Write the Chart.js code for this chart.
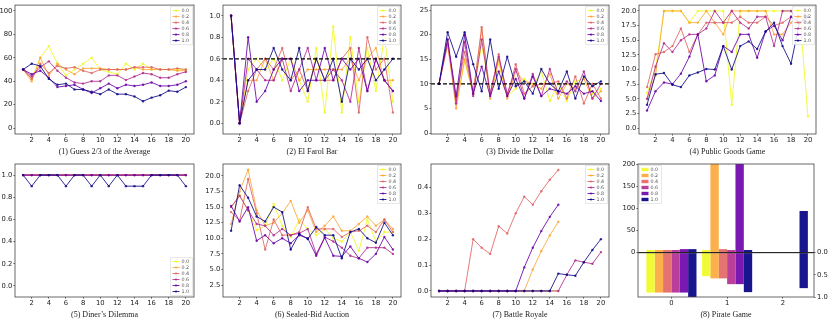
<!DOCTYPE html>
<html><head><meta charset="utf-8">
<script src="https://cdn.jsdelivr.net/npm/chart.js@4.4.1/dist/chart.umd.min.js"></script>
<style>
html,body{margin:0;padding:0;background:#fff;}
body{position:relative;width:831px;height:320px;overflow:hidden;}
canvas{position:absolute;}
.ttl{position:absolute;font-family:"Liberation Serif","Times New Roman",serif;font-size:8px;line-height:9px;color:#222;white-space:nowrap;transform:translateX(-50%);}
</style></head><body>
<script>
// ---------- data ----------
const rounds = [1,2,3,4,5,6,7,8,9,10,11,12,13,14,15,16,17,18,19,20];
const roundTicks = [2,4,6,8,10,12,14,16,18,20];
const temperatures = ['0.0','0.2','0.4','0.6','0.8','1.0'];

// (1) Guess 2/3 of the Average
const guess00 = [50,42,60,70,55,45,50,55,60,50,48,46,55,50,55,50,50,50,50,50];
const guess02 = [50,40,60,45,55,50,46,51,51,51,50,50,50,52,50,50,50,50,49,49];
const guess04 = [50,42,55,47,53,51,52,49,47,50,50,50,50,52,52,52,50,50,51,50];
const guess06 = [50,44,52,57,49,43,39,38,40,40,45,45,41,44,47,46,43,43,46,48];
const guess08 = [50,46,49,43,35,36,37,33,30,34,38,34,37,36,37,39,36,36,37,40];
const guess10 = [50,55,53,42,37,38,33,33,31,29,33,29,29,27,23,26,28,32,31,35];
const guessTicks = [0,20,40,60,80,100];

// (2) El Farol Bar
const farol00 = [1.0,0.0,0.5,0.6,0.5,0.6,0.4,0.6,0.4,0.2,0.7,0.1,0.9,0.1,0.8,0.2,0.7,0.3,0.8,0.2];
const farol02 = [1.0,0.0,0.4,0.4,0.6,0.4,0.6,0.6,0.4,0.5,0.5,0.5,0.5,0.5,0.6,0.4,0.6,0.7,0.4,0.4];
const farol04 = [1.0,0.0,0.3,0.5,0.6,0.5,0.7,0.4,0.5,0.3,0.6,0.4,0.4,0.6,0.7,0.1,0.8,0.5,0.6,0.1];
const farol06 = [1.0,0.0,0.6,0.5,0.4,0.4,0.6,0.3,0.5,0.7,0.4,0.4,0.5,0.4,0.2,0.7,0.3,0.6,0.4,0.3];
const farol08 = [1.0,0.0,0.8,0.2,0.3,0.5,0.6,0.6,0.3,0.4,0.4,0.7,0.4,0.6,0.5,0.6,0.3,0.6,0.4,0.3];
const farol10 = [1.0,0.0,0.4,0.5,0.5,0.7,0.5,0.4,0.7,0.3,0.6,0.4,0.6,0.2,0.6,0.5,0.6,0.4,0.5,0.6];
const farolTicks = [0,0.2,0.4,0.6,0.8,1.0];
const farolThreshold = 0.6;

// (3) Divide the Dollar
const dollar00 = [10,18.5,6,14.5,8,18,8,14,7.5,9,11,9.5,12.5,6.5,10,6.5,10.5,11,8,9];
const dollar02 = [10,18,5,15,8,21,7,15,7,12.5,10.5,10,9,12,7,10,9,11,7,8.5];
const dollar04 = [10,18,7,16.5,8,21.5,8,16,7.5,14,8,9.5,10,10,10.5,7,11.5,6,10,7];
const dollar06 = [10,19,6,18.5,7.5,19,8,15.5,8,13,7,12,7.5,13,8,10.5,8.5,12.5,7,10];
const dollar08 = [10,19,7.5,20,8,13.5,7.5,12.5,7.5,11,7,11.5,7.5,9,8.5,8,9.5,8,8.5,6.5];
const dollar10 = [10,20.5,15.5,20.5,14,8.5,19,9,15.5,9.5,10.5,8,13,10,8.5,12.5,7,11.5,9.5,10.5];
const dollarTicks = [0,5,10,15,20,25];
const dollarTarget = 10;

// (4) Public Goods Game
const goods00 = [6,10,20,20,20,18,20,20,20,20,4,20,20,20,20,20,20,20,20,2];
const goods02 = [5,9,20,20,20,18,18,20,18,16,20,20,20,20,20,16,16,18,19,20];
const goods04 = [7,12.6,13,14,17,13,16,18,18,18,18,19,18,18,19,17.5,18,19,19,18];
const goods06 = [5,10.5,14.5,13,15,16,16,17,20,18,20,18,17,19,19,14,20,20,18,19];
const goods08 = [3,6.3,7.8,7.5,9.3,12.2,16,8,9,14,13,16,16,12,16.5,17.5,15,19,18,19];
const goods10 = [4,9.2,9.4,7.4,7,9,9.5,10.1,10,14,10,14,14.8,13.5,16.5,18,14,11,18,19];
const goodsTicks = [0,2.5,5,7.5,10,12.5,15,17.5,20];

// (5) Diner's Dilemma
const diner00 = [1,1,1,1,1,1,1,1,1,1,1,1,1,1,1,1,1,1,1,1];
const diner02 = [1,1,1,1,1,1,1,1,1,1,1,1,1,1,1,1,1,1,1,1];
const diner04 = [1,1,1,1,1,1,1,1,1,1,1,1,1,1,1,1,1,1,1,1];
const diner06 = [1,1,1,1,1,1,1,1,1,1,1,1,1,1,1,1,1,1,1,1];
const diner08 = [1,1,1,1,1,1,1,1,1,1,1,1,1,1,1,1,1,1,1,1];
const diner10 = [1,0.9,1,1,1,0.9,1,1,0.9,1,0.9,1,0.9,0.9,0.9,1,1,1,1,0.9];
const dinerTicks = [0,0.2,0.4,0.6,0.8,1.0];

// (6) Sealed-Bid Auction
const auction00 = [15,17,14.5,11.3,12,15.5,12,10.2,13,11.5,10.5,11.5,10,9.5,11,8,13,9.5,11,11];
const auction02 = [12.3,17.5,21,14.5,12,12.5,14,16,12.5,14.5,11,12,13.5,11.2,11.2,12.3,13.5,12,13,11.5];
const auction04 = [14.2,12.8,19.5,14,8.2,13,10.5,10.5,11,15,11.5,11.5,11.5,10.2,11,11.2,12,11,13,11];
const auction06 = [15,16.8,14.5,12.3,12,10.5,11.5,10.5,10.8,11.5,7.5,10.2,9.5,8.5,7.2,6.8,8.5,8.5,8.5,7.5];
const auction08 = [15.2,12.7,15,9.6,10.5,9.2,10,9.2,10.5,10,7.2,10.1,7.2,7.1,8.7,6.8,6.2,7.5,10.2,8.2];
const auction10 = [11.2,18.5,16.5,13.5,12.7,15,14.2,8.2,10.7,9.9,11.8,10.5,10.5,6.8,11,11.5,10,9.3,12.5,10.5];
const auctionTicks = [2.5,5,7.5,10,12.5,15,17.5,20];

// (7) Battle Royale
const battle00 = [0,0,0,0,0,0,0,0,0,0,0,0,0,0,0,null,null,null,null,null];
const battle02 = [0,0,0,0,0,0,0,0,0,0,0,0.083,0.154,0.214,0.267,null,null,null,null,null];
const battle04 = [0,0,0,0,0.2,0.167,0.143,0.25,0.222,0.3,0.364,0.333,0.385,0.429,0.467,null,null,null,null,null];
const battle06 = [0,0,0,0,0,0,0,0,0,0,0,0,0,0,0,0.0625,0.118,0.111,0.105,0.15];
const battle08 = [0,0,0,0,0,0,0,0,0,0,0.091,0.167,0.231,0.286,0.333,null,null,null,null,null];
const battle10 = [0,0,0,0,0,0,0,0,0,0,0,0,0,0,0.067,0.0625,0.059,0.111,0.158,0.2];
const battleTicks = [0,0.1,0.2,0.3,0.4];

// (8) Pirate Game  (index = proposal 0,1,2)
const pirateProposals = [0,1,2];
const pirateGold00 = [6,6,null];
const pirateGold02 = [6,200,null];
const pirateGold04 = [6,8,null];
const pirateGold06 = [6,6,null];
const pirateGold08 = [8,200,null];
const pirateGold10 = [8,6,94];
const pirateRate00 = [0.9,0.53,null];
const pirateRate02 = [0.9,0.58,null];
const pirateRate04 = [0.9,0.58,null];
const pirateRate06 = [0.9,0.71,null];
const pirateRate08 = [0.9,0.71,null];
const pirateRate10 = [1.0,0.89,0.8];
const pirateGoldTicks = [0,50,100,150,200];
const pirateRateTicks = [0,0.5,1.0];

// ---------- styling ----------
const lineColors = ['rgba(240,249,33,0.85)','rgba(252,166,54,0.85)','rgba(225,100,98,0.85)',
                    'rgba(177,42,144,0.85)','rgba(106,0,168,0.85)','rgba(13,8,135,0.85)'];
const barColors  = ['rgba(240,249,33,0.9)','rgba(252,166,54,0.9)','rgba(225,100,98,0.9)',
                    'rgba(177,42,144,0.9)','rgba(106,0,168,0.9)','rgba(13,8,135,0.95)'];
const AX = '#444';
Chart.defaults.font.family = 'DejaVu Sans';
Chart.defaults.font.size = 6.8;
Chart.defaults.color = '#222';

const framePlugin = {
  id: 'frame',
  afterDatasetsDraw(chart, args, o) {
    const a = chart.chartArea, c = chart.ctx;
    c.save();
    if (o.hline !== undefined && o.hline !== null) {
      const sc = chart.scales[o.hScale || 'y'];
      const py = sc.getPixelForValue(o.hline);
      c.strokeStyle = '#000';
      c.lineWidth = o.hDash ? 1.2 : 1;
      c.setLineDash(o.hDash ? [4, 2] : []);
      c.beginPath(); c.moveTo(a.left, py); c.lineTo(a.right, py); c.stroke();
      c.setLineDash([]);
    }
    c.strokeStyle = AX; c.lineWidth = 0.8;
    c.strokeRect(a.left, a.top, a.width, a.height);
    c.restore();
  }
};
const legendPlugin = {
  id: 'miniLegend',
  afterDraw(chart, args, o) {
    const a = chart.chartArea, c = chart.ctx;
    const n = temperatures.length, rowH = 6, w = 22, h = rowH * n + 2;
    let x, y;
    if (o.corner === 'br') { x = a.right - w - 1.5; y = a.bottom - h - 1.5; }
    else if (o.corner === 'tl') { x = a.left + 1.5; y = a.top + 1.5; }
    else { x = a.right - w - 1.5; y = a.top + 1.5; }
    c.save();
    c.fillStyle = 'rgba(255,255,255,0.85)'; c.strokeStyle = '#d8d8d8'; c.lineWidth = 0.6;
    c.beginPath(); c.rect(x, y, w, h); c.fill(); c.stroke();
    c.font = '4.8px "DejaVu Sans"'; c.textBaseline = 'middle'; c.textAlign = 'left';
    for (let i = 0; i < n; i++) {
      const cy = y + 1 + rowH * i + rowH / 2;
      const col = o.bars ? barColors[i] : lineColors[i];
      if (o.bars) {
        c.fillStyle = col; c.fillRect(x + 2, cy - 1.7, 7, 3.4);
      } else {
        c.strokeStyle = col; c.lineWidth = 1;
        c.beginPath(); c.moveTo(x + 2, cy); c.lineTo(x + 9, cy); c.stroke();
        c.fillStyle = col; c.beginPath(); c.arc(x + 5.5, cy, 1.1, 0, Math.PI * 2); c.fill();
      }
      c.fillStyle = '#555'; c.fillText(temperatures[i], x + 11, cy);
    }
    c.restore();
  }
};

function makeCanvas(box, extraRight) {
  const cl = box.l - 26, ct = Math.max(0, box.t - 7), cr = box.r + (extraRight || 5), cb = box.b + 14;
  const cv = document.createElement('canvas');
  cv.width = cr - cl; cv.height = cb - ct;
  cv.style.left = cl + 'px'; cv.style.top = ct + 'px';
  cv.style.width = (cr - cl) + 'px'; cv.style.height = (cb - ct) + 'px';
  document.body.appendChild(cv);
  return { cv, cl, ct, cr, cb };
}
function addTitle(box, text) {
  const d = document.createElement('div');
  d.className = 'ttl'; d.textContent = text;
  d.style.left = ((box.l + box.r) / 2) + 'px';
  d.style.top = (box.b + 13) + 'px';
  document.body.appendChild(d);
}
function tickFix(list) { return (scale) => { scale.ticks = list.map(v => ({ value: v })); }; }
function gridCfg() { return { display: true, drawOnChartArea: false, drawTicks: true, tickLength: 1.6, tickColor: AX, tickWidth: 0.8 }; }

function linePanel(box, title, series, yMin, yMax, yTicks, yDec, legendCorner, hline) {
  const k = makeCanvas(box);
  const datasets = series.map((s, i) => ({
    label: temperatures[i], data: s,
    borderColor: lineColors[i], backgroundColor: lineColors[i],
    borderWidth: 1, pointRadius: 1.2, pointHoverRadius: 1.2, pointStyle: 'circle',
    pointBorderWidth: 0, tension: 0, spanGaps: false, order: series.length - i
  }));
  new Chart(k.cv, {
    type: 'line',
    data: { labels: rounds, datasets },
    options: {
      responsive: false, animation: false, devicePixelRatio: 1,
      layout: { padding: { left: 0, top: box.t - k.ct, right: k.cr - box.r, bottom: 0 } },
      plugins: { legend: { display: false }, tooltip: { enabled: false },
        frame: { hline: hline, hDash: true }, miniLegend: { corner: legendCorner } },
      scales: {
        x: { type: 'linear', min: 0.05, max: 20.95, border: { display: false }, grid: gridCfg(),
             afterBuildTicks: tickFix(roundTicks),
             ticks: { padding: 1, maxRotation: 0, autoSkip: false, callback: v => String(v) },
             afterFit: s => { s.height = k.cb - box.b; } },
        y: { type: 'linear', min: yMin, max: yMax, border: { display: false }, grid: gridCfg(),
             afterBuildTicks: tickFix(yTicks),
             ticks: { padding: 1, autoSkip: false, callback: v => Number(v).toFixed(yDec) },
             afterFit: s => { s.width = box.l - k.cl; } }
      }
    },
    plugins: [framePlugin, legendPlugin]
  });
  addTitle(box, title);
}

const L = {
  p1: { l: 15,  t: 1,   r: 194, b: 134 },
  p2: { l: 223, t: 1,   r: 401, b: 134 },
  p3: { l: 431, t: 1,   r: 609, b: 134 },
  p4: { l: 639, t: 1,   r: 816, b: 134 },
  p5: { l: 15,  t: 164, r: 194, b: 297 },
  p6: { l: 223, t: 164, r: 401, b: 297 },
  p7: { l: 431, t: 164, r: 609, b: 297 },
  p8: { l: 638, t: 164, r: 814, b: 297 }
};

linePanel(L.p1, '(1) Guess 2/3 of the Average', [guess00,guess02,guess04,guess06,guess08,guess10], -5, 105, guessTicks, 0, 'tr', null);
linePanel(L.p2, '(2) El Farol Bar', [farol00,farol02,farol04,farol06,farol08,farol10], -0.1, 1.1, farolTicks, 1, 'tr', farolThreshold);
linePanel(L.p3, '(3) Divide the Dollar', [dollar00,dollar02,dollar04,dollar06,dollar08,dollar10], -0.2, 26, dollarTicks, 0, 'tr', dollarTarget);
linePanel(L.p4, '(4) Public Goods Game', [goods00,goods02,goods04,goods06,goods08,goods10], -1, 21, goodsTicks, 1, 'tr', null);
linePanel(L.p5, '(5) Diner\u2019s Dilemma', [diner00,diner02,diner04,diner06,diner08,diner10], -0.1, 1.1, dinerTicks, 1, 'br', null);
linePanel(L.p6, '(6) Sealed-Bid Auction', [auction00,auction02,auction04,auction06,auction08,auction10], 0.6, 21.9, auctionTicks, 1, 'tr', null);
linePanel(L.p7, '(7) Battle Royale', [battle00,battle02,battle04,battle06,battle08,battle10], -0.0233, 0.49, battleTicks, 1, 'tr', null);

// Pirate game bar panel (two y axes)
(function () {
  const box = L.p8;
  const k = makeCanvas(box, 17);
  const gold = [pirateGold00,pirateGold02,pirateGold04,pirateGold06,pirateGold08,pirateGold10];
  const rate = [pirateRate00,pirateRate02,pirateRate04,pirateRate06,pirateRate08,pirateRate10];
  const toPts = arr => arr.map((v, i) => ({ x: pirateProposals[i], y: v })).filter(p => p.y !== null);
  const datasets = [];
  temperatures.forEach((t, i) => {
    datasets.push({ label: t, data: toPts(gold[i]), yAxisID: 'y', stack: 's' + i,
      backgroundColor: barColors[i], borderWidth: 0, categoryPercentage: 0.9, barPercentage: 1.0 });
    datasets.push({ label: t, data: toPts(rate[i]), yAxisID: 'y2', stack: 's' + i,
      backgroundColor: barColors[i], borderWidth: 0, categoryPercentage: 0.9, barPercentage: 1.0 });
  });
  new Chart(k.cv, {
    type: 'bar',
    data: { datasets },
    options: {
      responsive: false, animation: false, devicePixelRatio: 1,
      layout: { padding: { left: 0, top: box.t - k.ct, right: 0, bottom: 0 } },
      plugins: { legend: { display: false }, tooltip: { enabled: false },
        frame: { hline: 0, hScale: 'y', hDash: false }, miniLegend: { corner: 'tl', bars: true } },
      scales: {
        x: { type: 'linear', min: -0.6, max: 2.56, offset: false, border: { display: false },
             grid: Object.assign(gridCfg(), { offset: false }),
             afterBuildTicks: tickFix(pirateProposals),
             ticks: { padding: 1, maxRotation: 0, autoSkip: false, callback: v => String(v) },
             afterFit: s => { s.height = k.cb - box.b; } },
        y: { type: 'linear', position: 'left', min: -100, max: 200, stacked: false,
             border: { display: false }, grid: gridCfg(),
             afterBuildTicks: tickFix(pirateGoldTicks),
             ticks: { padding: 1, autoSkip: false, callback: v => String(v) },
             afterFit: s => { s.width = box.l - k.cl; } },
        y2: { type: 'linear', position: 'right', min: -2, max: 1, reverse: true, stacked: false,
             border: { display: false }, grid: gridCfg(),
             afterBuildTicks: tickFix(pirateRateTicks),
             ticks: { padding: 1.5, autoSkip: false, callback: v => Number(v).toFixed(1) },
             afterFit: s => { s.width = k.cr - box.r; } }
      }
    },
    plugins: [framePlugin, legendPlugin]
  });
  addTitle(box, '(8) Pirate Game');
})();
</script>
</body></html>
